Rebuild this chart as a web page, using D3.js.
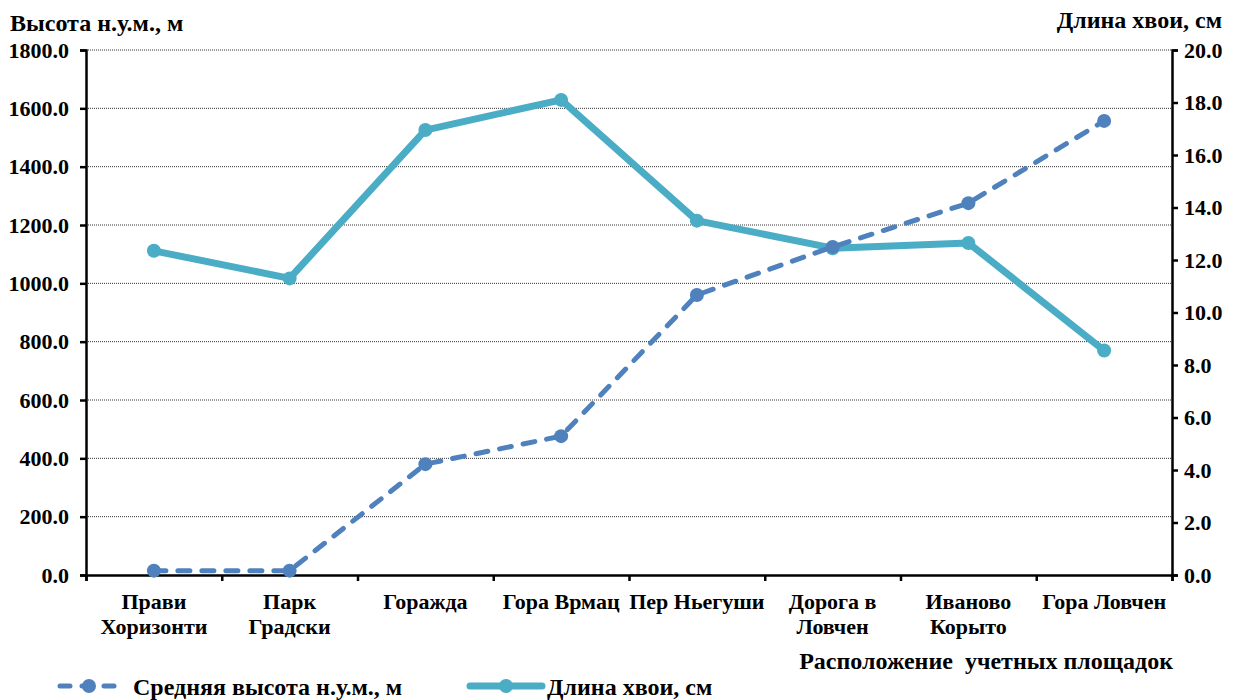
<!DOCTYPE html>
<html><head><meta charset="utf-8">
<script src="https://cdn.jsdelivr.net/npm/d3@7/dist/d3.min.js"></script>
<style>
body{margin:0;background:#fff;}
text{font-family:"Liberation Serif","Times New Roman",serif;font-weight:bold;fill:#000;}
</style></head><body>
<svg id="c" width="1239" height="700"></svg>
<script>
const categories = [["Прави","Хоризонти"],["Парк","Градски"],["Горажда"],["Гора Врмац"],["Пер Ньегуши"],["Дорога в","Ловчен"],["Иваново","Корыто"],["Гора Ловчен"]];
const elevation = [15, 15, 380, 476, 960, 1125, 1275, 1557];
const needle = [12.35, 11.3, 16.95, 18.1, 13.5, 12.45, 12.65, 8.55];
const leftTicks = [0,200,400,600,800,1000,1200,1400,1600,1800];
const rightTicks = [0,2,4,6,8,10,12,14,16,18,20];

const svg = d3.select("#c");
const L=86, R=1172, T=50, B=575;
const x = d3.scaleBand().domain(d3.range(categories.length)).range([L,R]);
const yL = d3.scaleLinear().domain([0,1800]).range([B,T]);
const yR = d3.scaleLinear().domain([0,20]).range([B,T]);
const c1="#4F81BD", c2="#4BACC6";

// grid
svg.append("g").selectAll("line").data(leftTicks.filter(d=>d>0)).join("line")
 .attr("x1",L).attr("x2",R).attr("y1",d=>yL(d)).attr("y2",d=>yL(d))
 .attr("stroke","#333").attr("stroke-width",1).attr("stroke-dasharray","1,1");

// left axis
const ga = svg.append("g").attr("transform",`translate(${L},0)`)
 .call(d3.axisLeft(yL).tickValues(leftTicks).tickFormat(d3.format(".1f")).tickSize(6).tickPadding(11));
ga.select(".domain").attr("stroke-width",2.5);
ga.selectAll(".tick line").attr("stroke-width",2.5);
ga.selectAll("text").style("font-size","22px");

// right axis
const gr = svg.append("g").attr("transform",`translate(${R},0)`)
 .call(d3.axisRight(yR).tickValues(rightTicks).tickFormat(d3.format(".1f")).tickSize(6).tickPadding(6));
gr.select(".domain").attr("stroke-width",2.5);
gr.selectAll(".tick line").attr("stroke-width",2.5);
gr.selectAll("text").style("font-size","22px");

// bottom axis
const bx = d3.scaleLinear().domain([0,categories.length]).range([L,R]);
const gb = svg.append("g").attr("transform",`translate(0,${B})`)
 .call(d3.axisBottom(bx).tickValues(d3.range(categories.length+1)).tickSize(6).tickFormat(""));
gb.select(".domain").attr("stroke-width",2.5);
gb.selectAll(".tick line").attr("stroke-width",2.5);

// category labels
const cl = svg.append("g").selectAll("text").data(categories).join("text")
 .attr("x",(d,i)=>x(i)+x.bandwidth()/2).attr("y",609).attr("text-anchor","middle").style("font-size","22px");
cl.selectAll("tspan").data(d=>d).join("tspan")
 .attr("x",function(){return this.parentNode.getAttribute("x");})
 .attr("dy",(d,i)=>i?25:0).text(d=>d);

const cx = i=>x(i)+x.bandwidth()/2;
// needle line
svg.append("path").datum(needle).attr("fill","none").attr("stroke",c2).attr("stroke-width",7).attr("stroke-linejoin","round")
 .attr("d",d3.line().x((d,i)=>cx(i)).y(d=>yR(d)));
svg.append("g").selectAll("circle").data(needle).join("circle")
 .attr("cx",(d,i)=>cx(i)).attr("cy",d=>yR(d)).attr("r",7).attr("fill",c2);
// elevation line
svg.append("path").datum(elevation).attr("fill","none").attr("stroke",c1).attr("stroke-width",5).attr("stroke-linecap","round")
 .attr("stroke-dasharray","12,12")
 .attr("d",d3.line().x((d,i)=>cx(i)).y(d=>yL(d)));
svg.append("g").selectAll("circle").data(elevation).join("circle")
 .attr("cx",(d,i)=>cx(i)).attr("cy",d=>yL(d)).attr("r",7).attr("fill",c1);

// titles
svg.append("text").attr("x",10).attr("y",31).style("font-size","24px").text("Высота н.у.м., м");
svg.append("text").attr("x",1222).attr("y",28).attr("text-anchor","end").style("font-size","24px").text("Длина хвои, см");
svg.append("text").attr("x",1173).attr("y",669).attr("text-anchor","end").style("font-size","24px").style("white-space","pre").text("Расположение  учетных площадок");

// legend
const lg = svg.append("g");
lg.append("line").attr("x1",60).attr("x2",118).attr("y1",686).attr("y2",686).attr("stroke",c1).attr("stroke-width",5).attr("stroke-linecap","round").attr("stroke-dasharray","10,12");
lg.append("circle").attr("cx",89).attr("cy",686).attr("r",7).attr("fill",c1);
lg.append("text").attr("x",133).attr("y",695).style("font-size","24px").text("Средняя высота н.у.м., м");
lg.append("line").attr("x1",470).attr("x2",542).attr("y1",686).attr("y2",686).attr("stroke",c2).attr("stroke-width",7).attr("stroke-linecap","round");
lg.append("circle").attr("cx",506).attr("cy",686).attr("r",7).attr("fill",c2);
lg.append("text").attr("x",547).attr("y",695).style("font-size","24px").text("Длина хвои, см");
</script></body></html>
